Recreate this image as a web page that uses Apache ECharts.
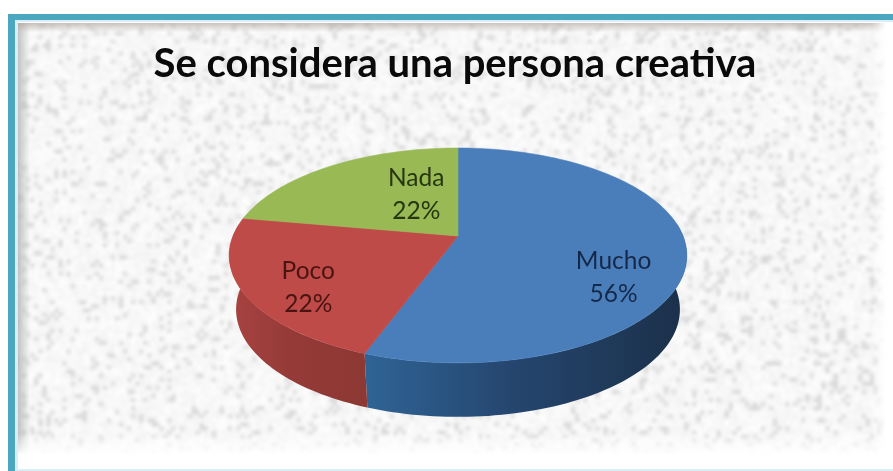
<!DOCTYPE html>
<html><head><meta charset="utf-8">
<style>html,body{margin:0;padding:0;background:#fff}#c{width:893px;height:471px}</style>
<script src="https://cdn.jsdelivr.net/npm/echarts@6/dist/echarts.min.js"></script>
</head><body><div id="c"></div>
<script>
const categories = ["Mucho", "Poco", "Nada"];
const values = [55.6, 22.2, 22.2];
const titleText = "Se considera una persona creativa";

// Styling and projection constants
const topColors = ["#4a7ebb", "#be4b48", "#98b954"];
const textColors = ["#14294a", "#4a1412", "#26370f"];
const wallColors = [["#2f6496", "#25466f", "#1b3049"], ["#a84341", "#953a38", "#8c3833"], ["#98b954", "#98b954", "#98b954"]];
const labelRadius = [0.7, 0.7, 0.4];
const labelShift = [[-3, 29], [-4, 13], [13, -11]];
const cam = {cx: 458, apexY: 236, k: 225, a: -61.2, c: 0.181, depth: 54, shrink: 0.97};

function project(r, deg, drop) {
  const t = deg * Math.PI / 180, u = r * Math.sin(t), v = r * Math.cos(t);
  const d = cam.c * v + 1, s = drop ? cam.shrink : 1;
  return [cam.cx + cam.k * s * u / d, (cam.a * v + cam.apexY) / d + (drop ? cam.depth : 0)];
}
const total = values.reduce((a, b) => a + b, 0);
function arc(a0, a1, drop) {
  const pts = [], n = Math.max(2, Math.ceil(Math.abs(a1 - a0) / 1.5));
  for (let i = 0; i <= n; i++) pts.push(project(1, a0 + (a1 - a0) * i / n, drop));
  return pts;
}
function poly(points, fill, z2, stroke) {
  return {type: 'polygon', z2: z2, shape: {points: points}, style: {fill: fill, stroke: stroke || fill, lineWidth: 0.6}};
}
function renderSlice(params, api) {
  const i = params.dataIndex;
  const start = api.value(1) / total * 360, end = api.value(2) / total * 360;
  const children = [];
  const w0 = Math.max(start, 83), w1 = Math.min(end, 277);
  if (w1 > w0) {
    const top = arc(w0, w1, false), bot = arc(w0, w1, true).reverse();
    const wc = wallColors[i];
    children.push(poly(top.concat(bot), new echarts.graphic.LinearGradient(0, 0, 1, 0, [
      {offset: 0, color: wc[0]}, {offset: 0.45, color: wc[1]}, {offset: 1, color: wc[2]}
    ]), 1, 'transparent'));
  }
  children.push(poly([project(0, 0, false)].concat(arc(start, end, false)), topColors[i], 2));
  const mid = (start + end) / 2, lp = project(labelRadius[i], mid, false);
  children.push({type: 'text', z2: 5, style: {
    x: lp[0] + labelShift[i][0], y: lp[1] + labelShift[i][1],
    text: api.value(3) + "\n" + Math.round(api.value(0)) + "%",
    fill: textColors[i], font: "24.5px Lato", align: 'center', verticalAlign: 'middle', lineHeight: 33
  }});
  return {type: 'group', children: children};
}

// Decorative paper speckle for the backdrop (deterministic hash, not chart data)
function hash(x, y) { const s = Math.sin(x * 127.1 + y * 311.7) * 43758.5453; return s - Math.floor(s); }
function paperTexture(w, h) {
  const small = document.createElement('canvas');
  small.width = Math.ceil(w / 4); small.height = Math.ceil(h / 4);
  const sc = small.getContext('2d');
  const img = sc.createImageData(small.width, small.height);
  for (let y = 0; y < small.height; y++) for (let x = 0; x < small.width; x++) {
    const n = hash(x, y), v = n > 0.87 ? 216 : 252 - n * 12 + (hash(y, x) > 0.5 ? 3 : 0);
    const o = (y * small.width + x) * 4;
    img.data[o] = img.data[o + 1] = img.data[o + 2] = v; img.data[o + 3] = 255;
  }
  sc.putImageData(img, 0, 0);
  const big = document.createElement('canvas'); big.width = w; big.height = h;
  const g = big.getContext('2d');
  g.filter = 'blur(1.5px)';
  g.fillStyle = '#fff'; g.fillRect(0, 0, w, h);
  g.imageSmoothingEnabled = true; g.drawImage(small, -4, -4, w + 8, h + 8);
  g.filter = 'none';
  // Soft shaded inner edges of the frame
  let e = g.createLinearGradient(0, 0, 12, 0);
  e.addColorStop(0, 'rgba(150,150,150,0.55)'); e.addColorStop(1, 'rgba(150,150,150,0)');
  g.fillStyle = e; g.fillRect(0, 0, 12, h);
  e = g.createLinearGradient(0, 0, 0, 9);
  e.addColorStop(0, 'rgba(170,160,150,0.6)'); e.addColorStop(1, 'rgba(170,160,150,0)');
  g.fillStyle = e; g.fillRect(0, 0, w, 9);
  e = g.createLinearGradient(0, h - 22, 0, h);
  e.addColorStop(0, 'rgba(255,255,255,0)'); e.addColorStop(1, 'rgba(255,255,255,1)');
  g.fillStyle = e; g.fillRect(0, h - 22, w, 22);
  e = g.createLinearGradient(w - 14, 0, w, 0);
  e.addColorStop(0, 'rgba(255,255,255,0)'); e.addColorStop(1, 'rgba(255,255,255,1)');
  g.fillStyle = e; g.fillRect(w - 14, 0, 14, h);
  return big;
}

let acc = 0;
const rows = values.map((v, i) => { const r = [v, acc, acc + v, categories[i]]; acc += v; return r; });
const chart = echarts.init(document.getElementById('c'), null, {renderer: 'canvas', width: 893, height: 471});
chart.setOption({
  animation: false,
  backgroundColor: '#fff',
  title: {text: titleText, left: 450, top: 39, textAlign: 'center',
    textStyle: {fontFamily: 'Lato', fontWeight: 'bold', fontSize: 40, color: '#0a0a0a'}},
  graphic: [
    {type: 'rect', z: -4, shape: {x: 8, y: 14, width: 885, height: 457}, style: {fill: '#4ba7c0'}},
    {type: 'rect', z: -3, shape: {x: 15, y: 20, width: 878, height: 451}, style: {fill: '#d9eff5'}},
    {type: 'rect', z: -2, shape: {x: 18, y: 22, width: 875, height: 447}, style: {fill: '#fff'}},
    {type: 'image', z: -1, style: {image: paperTexture(868, 432), x: 18, y: 23, width: 868, height: 432}}
  ],
  series: [{
    type: 'custom', coordinateSystem: 'none', data: rows, renderItem: renderSlice,
    encode: {itemName: 3, value: 0}
  }]
});
</script></body></html>
